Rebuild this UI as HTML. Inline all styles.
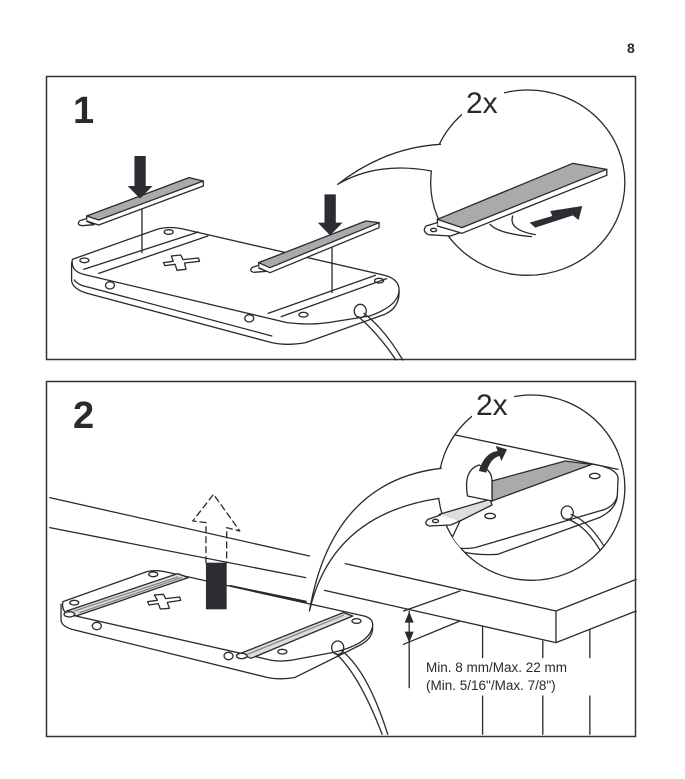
<!DOCTYPE html>
<html><head><meta charset="utf-8"><style>
html,body{margin:0;padding:0;background:#fff;}
svg{display:block;}
text{font-family:"Liberation Sans",sans-serif;fill:#2a2a2a;}
</style></head><body>
<svg width="685" height="779" viewBox="0 0 685 779" xmlns="http://www.w3.org/2000/svg">
<defs>
<clipPath id="c1"><ellipse cx="1280" cy="320" rx="258" ry="278"/></clipPath>
<clipPath id="c2"><ellipse cx="1290" cy="320" rx="248" ry="278"/></clipPath>
</defs>
<text x="627" y="53" font-size="14" font-weight="bold">8</text>
<rect x="46.5" y="76.5" width="589" height="283" fill="none" stroke="#333" stroke-width="1.5"/>
<rect x="46.5" y="381.5" width="589" height="355" fill="none" stroke="#333" stroke-width="1.5"/>

<!-- PANEL 1 -->
<g transform="translate(46,76) scale(0.37636,0.33333)" fill="none" stroke="#2a2a2a" stroke-width="1.3" stroke-linejoin="round" stroke-linecap="round">
 <path vector-effect="non-scaling-stroke" fill="#fff" d="M70,550 L295,460 Q325,450 360,458 L900,598 Q940,610 938,645 Q935,690 860,720 L750,740 Q700,748 640,740 L100,595 Q65,585 70,550 Z"/>
 <path vector-effect="non-scaling-stroke" d="M68,560 L68,615 Q72,640 110,652 L600,800 Q640,810 690,800 L900,715 Q940,695 938,645"/>
 <path vector-effect="non-scaling-stroke" d="M75,612 Q85,628 115,634 L600,780"/>
 <path vector-effect="non-scaling-stroke" d="M100,580 L405,468 M140,592 L430,480 M590,712 L875,598 M625,722 L905,608"/>
 <ellipse vector-effect="non-scaling-stroke" cx="102" cy="553" rx="12" ry="7"/>
 <ellipse vector-effect="non-scaling-stroke" cx="326" cy="468" rx="12" ry="7"/>
 <ellipse vector-effect="non-scaling-stroke" cx="885" cy="614" rx="12" ry="7"/>
 <ellipse vector-effect="non-scaling-stroke" cx="684" cy="716" rx="12" ry="7"/>
 <ellipse vector-effect="non-scaling-stroke" cx="170" cy="628" rx="12" ry="11"/>
 <ellipse vector-effect="non-scaling-stroke" cx="540" cy="727" rx="12" ry="11"/>
 <path vector-effect="non-scaling-stroke" d="M312,560 L338,556 L333,540 L358,537 L364,551 L405,546 L408,556 L368,561 L372,580 L348,583 L343,565 L316,569 Z"/>
 <ellipse vector-effect="non-scaling-stroke" cx="835" cy="705" rx="16" ry="20"/>
 <path vector-effect="non-scaling-stroke" d="M845,712 Q900,760 948,852 M830,722 Q882,772 930,852"/>
 <path vector-effect="non-scaling-stroke" d="M255,382 L255,530 M760,505 L760,650"/>
 <path vector-effect="non-scaling-stroke" fill="#fff" d="M108,420 L108,435 L140,447 L418,330 L418,315 Z"/>
 <path vector-effect="non-scaling-stroke" fill="#aaa" d="M108,420 L380,305 L418,315 L140,432 Z"/>
 <path vector-effect="non-scaling-stroke" fill="#fff" d="M108,428 L90,434 Q80,446 95,449 L128,446 L108,436"/>
 <path vector-effect="non-scaling-stroke" fill="#fff" d="M565,560 L565,575 L595,590 L885,455 L885,440 Z"/>
 <path vector-effect="non-scaling-stroke" fill="#aaa" d="M565,560 L850,435 L885,440 L595,575 Z"/>
 <path vector-effect="non-scaling-stroke" fill="#fff" d="M565,568 L548,574 Q538,586 553,589 L585,586 L565,576"/>
 <polygon fill="#2b2d33" stroke="none" points="235,240 265,240 265,330 283,330 250,368 217,330 235,330"/>
 <polygon fill="#2b2d33" stroke="none" points="740,355 770,355 770,440 788,440 755,478 722,440 740,440"/>
 <ellipse vector-effect="non-scaling-stroke" cx="1280" cy="320" rx="258" ry="278"/>
 <path fill="#fff" stroke="none" d="M1045,205 Q900,215 775,325 Q880,255 1022,285 L1045,290 L1070,205 Z"/>
 <path vector-effect="non-scaling-stroke" d="M1048,205 Q900,215 775,325 Q880,255 1024,285"/>
 <path vector-effect="non-scaling-stroke" d="M1180,445 Q1200,472 1290,482 M1240,420 Q1228,462 1300,476"/>
 <path vector-effect="non-scaling-stroke" fill="#fff" d="M1040,430 L1040,450 L1105,472 L1490,298 L1490,280 Z"/>
 <path vector-effect="non-scaling-stroke" fill="#aaa" d="M1040,430 L1400,262 L1490,280 L1105,455 Z"/>
 <path vector-effect="non-scaling-stroke" fill="#fff" d="M1040,440 L1010,450 Q998,466 1016,476 L1075,480 L1100,470 L1040,450"/>
 <ellipse vector-effect="non-scaling-stroke" cx="1030" cy="462" rx="8" ry="5"/>
 <polygon fill="#2b2d33" stroke="none" points="1285,440 1345,420 1340,405 1425,390 1415,432 1400,418 1300,455"/>
</g>
<rect x="462" y="86" width="42" height="30" fill="#fff"/>
<text x="466" y="113" font-size="30" font-weight="300">2x</text>
<text x="73" y="123" font-size="38" font-weight="bold">1</text>

<!-- PANEL 2 -->
<g transform="translate(46,381) scale(0.37636,0.33333)" fill="none" stroke="#2a2a2a" stroke-width="1.3" stroke-linejoin="round" stroke-linecap="round">
 <path vector-effect="non-scaling-stroke" d="M10,350 L700,525 M795,548 L1355,690 M10,440 L690,590 M740,628 L1355,785 M1355,690 L1568,595 M1355,690 L1355,785 M1355,785 L1568,690"/>
 <path vector-effect="non-scaling-stroke" stroke-width="2" d="M490,615 L690,662"/>
 <path vector-effect="non-scaling-stroke" d="M1160,735 V830 M1160,945 V1060 M1320,780 V830 M1320,945 V1060 M1445,745 V830 M1445,945 V1060"/>
 <path vector-effect="non-scaling-stroke" d="M965,690 V920 M950,690 L1100,630 M950,790 L1100,720"/>
 <polygon fill="#2a2a2a" stroke="none" points="953,725 965,692 977,725"/>
 <polygon fill="#2a2a2a" stroke="none" points="953,752 965,785 977,752"/>
 <path vector-effect="non-scaling-stroke" fill="#fff" d="M45,662 L268,572 Q290,566 315,572 L845,705 Q870,712 868,735 Q860,790 760,815 L650,838 Q620,842 600,838 L60,700 Q40,690 45,662 Z"/>
 <path vector-effect="non-scaling-stroke" d="M40,670 L40,720 Q45,740 80,748 L590,890 Q620,897 660,890 L830,795 Q868,775 868,740"/>
 <path vector-effect="non-scaling-stroke" fill="#ddd" d="M55,690 L350,578 L378,590 L80,705 Z"/>
 <path vector-effect="non-scaling-stroke" d="M75,690 L350,588 M90,695 L360,590" stroke="#888"/>
 <path vector-effect="non-scaling-stroke" fill="#ddd" d="M515,818 L790,695 L815,705 L545,832 Z"/>
 <path vector-effect="non-scaling-stroke" d="M535,820 L790,703" stroke="#888"/>
 <ellipse vector-effect="non-scaling-stroke" fill="#fff" cx="62" cy="700" rx="14" ry="8"/>
 <ellipse vector-effect="non-scaling-stroke" fill="#fff" cx="520" cy="825" rx="14" ry="8"/>
 <ellipse vector-effect="non-scaling-stroke" cx="75" cy="665" rx="12" ry="7"/>
 <ellipse vector-effect="non-scaling-stroke" cx="285" cy="580" rx="12" ry="7"/>
 <ellipse vector-effect="non-scaling-stroke" cx="825" cy="720" rx="12" ry="7"/>
 <ellipse vector-effect="non-scaling-stroke" cx="628" cy="812" rx="12" ry="7"/>
 <ellipse vector-effect="non-scaling-stroke" cx="135" cy="735" rx="12" ry="11"/>
 <ellipse vector-effect="non-scaling-stroke" cx="485" cy="825" rx="12" ry="11"/>
 <path vector-effect="non-scaling-stroke" d="M270,662 L296,658 L288,642 L312,640 L318,653 L355,648 L358,658 L322,664 L328,682 L304,684 L298,668 L274,672 Z"/>
 <ellipse vector-effect="non-scaling-stroke" cx="775" cy="800" rx="16" ry="20"/>
 <path vector-effect="non-scaling-stroke" d="M785,808 Q855,870 908,1060 M770,818 Q832,880 893,1060"/>
 <path vector-effect="non-scaling-stroke" stroke-dasharray="6,4" d="M425,545 V425 L390,420 L445,340 L515,450 L480,440 V545"/>
 <rect x="425" y="545" width="55" height="140" fill="#2b2d33" stroke="none"/>
 <ellipse vector-effect="non-scaling-stroke" cx="1290" cy="320" rx="248" ry="278"/>
 <path fill="#fff" stroke="none" d="M1048,262 Q760,300 700,690 Q760,400 1044,352 L1065,352 L1070,262 Z"/>
 <path vector-effect="non-scaling-stroke" d="M1050,262 Q760,300 700,690 Q760,400 1044,352"/>
 <g clip-path="url(#c2)">
  <path vector-effect="non-scaling-stroke" d="M1080,160 L1520,265"/>
  <path vector-effect="non-scaling-stroke" fill="#fff" d="M1185,300 L1440,248 Q1515,258 1520,290 L1518,345 Q1510,380 1470,390 L1140,500 Q1080,510 1075,480 L1100,420"/>
  <path vector-effect="non-scaling-stroke" d="M1075,480 L1080,500 Q1120,525 1200,520 L1470,410 Q1515,385 1518,345"/>
  <ellipse vector-effect="non-scaling-stroke" cx="1385" cy="395" rx="16" ry="20"/>
  <path vector-effect="non-scaling-stroke" d="M1395,400 Q1450,425 1495,520 M1385,414 Q1438,435 1478,520"/>
 </g>
 <path vector-effect="non-scaling-stroke" fill="#aaa" d="M1185,300 L1380,240 L1450,250 L1185,360 Z"/>
 <path vector-effect="non-scaling-stroke" fill="#ddd" d="M1045,400 L1180,355 L1185,372 L1100,420 L1050,415 Z"/>
 <path vector-effect="non-scaling-stroke" fill="#fff" d="M1048,402 L1015,415 Q1002,428 1018,435 L1075,432 L1100,420"/>
 <ellipse vector-effect="non-scaling-stroke" cx="1035" cy="420" rx="8" ry="5"/>
 <path vector-effect="non-scaling-stroke" fill="#fff" d="M1120,345 Q1108,268 1150,252 Q1185,265 1185,300 L1185,360 Z"/>
 <path fill="#2b2d33" stroke="none" d="M1150,270 Q1165,215 1200,210 L1195,195 L1225,205 L1210,240 L1205,225 Q1180,232 1170,275 Z"/>
 <ellipse vector-effect="non-scaling-stroke" cx="1180" cy="405" rx="14" ry="8"/>
 <ellipse vector-effect="non-scaling-stroke" cx="1458" cy="285" rx="14" ry="8"/>
</g>
<rect x="472" y="390" width="42" height="30" fill="#fff"/>
<text x="476" y="415" font-size="30" font-weight="300">2x</text>
<text x="73" y="428" font-size="38" font-weight="bold">2</text>
<text x="426" y="672" font-size="13.5">Min. 8 mm/Max. 22 mm</text>
<text x="426" y="690" font-size="13.5">(Min. 5/16"/Max. 7/8")</text>
</svg>
</body></html>
